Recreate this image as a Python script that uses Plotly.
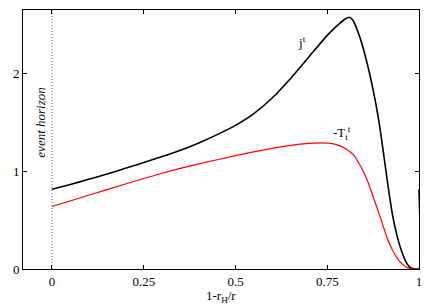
import plotly.graph_objects as go

# j^t (black)
x_j = [0.0, 0.05, 0.1, 0.15, 0.2, 0.25, 0.3, 0.35, 0.4, 0.45, 0.5, 0.55, 0.6, 0.65, 0.7, 0.75, 0.78, 0.80, 0.81, 0.82, 0.839, 0.853, 0.866, 0.882, 0.894, 0.905, 0.916, 0.928, 0.939, 0.951, 0.965, 0.975, 0.988, 1.0, 1.0]
y_j = [0.816, 0.865, 0.918, 0.972, 1.03, 1.09, 1.15, 1.215, 1.29, 1.375, 1.47, 1.59, 1.75, 1.95, 2.17, 2.39, 2.50, 2.56, 2.575, 2.545, 2.37, 2.19, 1.99, 1.70, 1.43, 1.14, 0.84, 0.55, 0.36, 0.20, 0.07, 0.018, 0.0, 0.0, 0.816]

# -T_t^t (red)
x_T = [0.0, 0.1, 0.2, 0.3, 0.4, 0.5, 0.6, 0.65, 0.7, 0.73, 0.76, 0.785, 0.80, 0.821, 0.835, 0.848, 0.862, 0.875, 0.894, 0.912, 0.93, 0.948, 0.966, 0.98, 1.0]
y_T = [0.64, 0.755, 0.87, 0.98, 1.075, 1.16, 1.235, 1.265, 1.285, 1.29, 1.285, 1.26, 1.23, 1.17, 1.09, 1.0, 0.88, 0.74, 0.535, 0.33, 0.177, 0.075, 0.017, 0.0, 0.0]

x_ticks = [0, 0.25, 0.5, 0.75, 1]
x_tick_labels = ["0", "0.25", "0.5", "0.75", "1"]
y_ticks = [0, 1, 2]
y_tick_labels = ["0", "1", "2"]

horizon_x = [0, 0]
horizon_y = [0, 2.65]

font = "Liberation Serif, Times New Roman, serif"

fig = go.Figure()
fig.add_trace(go.Scatter(x=horizon_x, y=horizon_y, mode="lines",
                         line=dict(color="#555555", width=1, dash="1px,2px"),
                         showlegend=False, hoverinfo="skip"))
fig.add_trace(go.Scatter(x=x_j, y=y_j, mode="lines",
                         line=dict(color="black", width=1.6, shape="spline", smoothing=0.5),
                         showlegend=False))
fig.add_trace(go.Scatter(x=x_T, y=y_T, mode="lines",
                         line=dict(color="#ff0000", width=1.2, shape="spline", smoothing=0.5),
                         showlegend=False))

fig.add_annotation(x=-0.032, y=1.5, text="<i>event horizon</i>", textangle=-90,
                   showarrow=False, font=dict(family=font, size=13, color="black"))
fig.add_annotation(x=0.68, y=2.32, text="j<sup>t</sup>", showarrow=False,
                   font=dict(family=font, size=13, color="black"))
fig.add_annotation(x=0.79, y=1.39, text="-T<sub>t</sub><sup>t</sup>", showarrow=False,
                   font=dict(family=font, size=13, color="black"))
fig.add_annotation(x=0.5, xref="paper", y=-0.065, yref="paper", yanchor="top",
                   text="1-r<sub>H</sub>/r", showarrow=False,
                   font=dict(family=font, size=13, color="black"))

axis_common = dict(showline=True, linecolor="black", linewidth=1, mirror="ticks",
                   ticks="inside", ticklen=4, tickcolor="black", showgrid=False,
                   zeroline=False, automargin=False,
                   tickfont=dict(family=font, size=13, color="black"))
fig.update_xaxes(range=[-0.079, 1.0], tickvals=x_ticks, ticktext=x_tick_labels, **axis_common)
fig.update_yaxes(range=[0, 2.65], tickvals=y_ticks, ticktext=y_tick_labels, **axis_common)

fig.update_layout(width=435, height=305, margin=dict(l=23, r=16, t=10, b=36),
                  plot_bgcolor="white", paper_bgcolor="white",
                  font=dict(family=font, size=13, color="black"))
fig.write_html("out.html", config={"displayModeBar": False},
               post_script="document.body.style.margin='0';document.body.style.overflow='hidden';")
